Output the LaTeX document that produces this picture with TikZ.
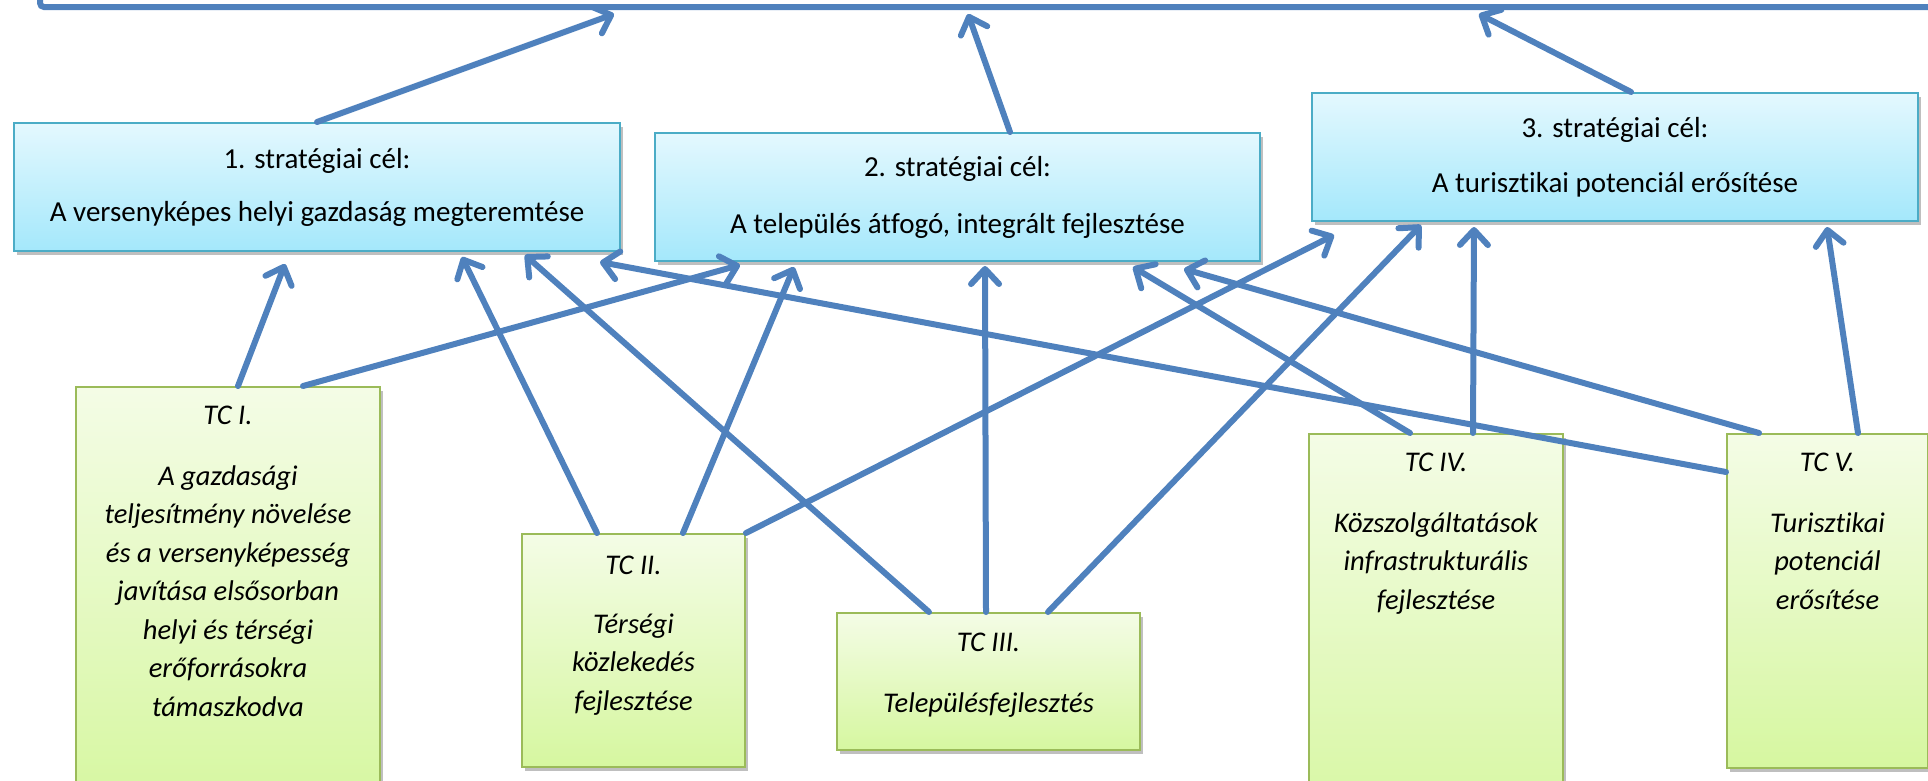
\documentclass[tikz,border=0pt]{standalone}
\usepackage{fontspec}
\setmainfont{Carlito}[Ligatures={NoCommon}]
\usetikzlibrary{arrows.meta,shadows}
\definecolor{arrowblue}{RGB}{79,129,189}
\definecolor{bluetop}{RGB}{228,248,254}
\definecolor{bluebot}{RGB}{164,232,251}
\definecolor{blueline}{RGB}{75,172,198}
\definecolor{greentop}{RGB}{244,252,230}
\definecolor{greenbot}{RGB}{214,247,160}
\definecolor{greenline}{RGB}{155,187,89}
\tikzset{
  goalbox/.style={draw=blueline, line width=2pt, top color=bluetop, bottom color=bluebot,
    anchor=north west, inner sep=0pt, align=center,
    font=\fontsize{29}{35}\selectfont,
    drop shadow={shadow xshift=3pt, shadow yshift=-4pt, opacity=0.25, fill=black}},
  tcbox/.style={draw=greenline, line width=2pt, top color=greentop, bottom color=greenbot,
    anchor=north west, inner sep=0pt,
    drop shadow={shadow xshift=3pt, shadow yshift=-4pt, opacity=0.25, fill=black}},
  tctext/.style={anchor=north, inner sep=0pt, align=center,
    font=\fontsize{28.5}{38.5}\selectfont\itshape},
  link/.style={draw=arrowblue, line width=6pt, line cap=round,
    -{Straight Barb[length=15pt,width=28pt,round]}},
}
\begin{document}
\begin{tikzpicture}[x=1pt,y=-1pt]
\useasboundingbox (0,0) rectangle (1928,780);
\clip (0,0) rectangle (1928,780);
% top (cut off) box
\node[draw=arrowblue, line width=6pt, rounded corners=4pt, anchor=south west,
  minimum width=1990pt, minimum height=120pt, inner sep=0pt] (cel) at (37,10) {};
% strategic goals
\node[goalbox, minimum width=606pt, minimum height=128pt] (b1) at (13,122)
  {1. stratégiai cél:\\[18pt]A versenyképes helyi gazdaság megteremtése};
\node[goalbox, minimum width=605pt, minimum height=128pt] (b2) at (654,132)
  {2. stratégiai cél:\\[22pt]A település átfogó, integrált fejlesztése};
\node[goalbox, minimum width=606pt, minimum height=128pt] (b3) at (1311,92)
  {3. stratégiai cél:\\[20pt]A turisztikai potenciál erősítése};
% thematic goals
\node[tcbox, minimum width=304pt, minimum height=420pt] (g1) at (75,386) {};
\node[tcbox, minimum width=223pt, minimum height=233pt] (g2) at (521,533) {};
\node[tcbox, minimum width=303pt, minimum height=137pt] (g3) at (836,612) {};
\node[tcbox, minimum width=254pt, minimum height=400pt] (g4) at (1308,433) {};
\node[tcbox, minimum width=201pt, minimum height=334pt] (g5) at (1726,433) {};
\node[tctext] (g1t) at ([yshift=-20pt]g1.north)
  {TC I.\\[22pt]A gazdasági\\teljesítmény növelése\\és a versenyképesség\\javítása elsősorban\\helyi és térségi\\erőforrásokra\\támaszkodva};
\node[tctext] (g2t) at ([yshift=-23pt]g2.north)
  {TC II.\\[20pt]Térségi\\közlekedés\\fejlesztése};
\node[tctext] (g3t) at ([yshift=-21pt]g3.north)
  {TC III.\\[22pt]Településfejlesztés};
\node[tctext] (g4t) at ([yshift=-20pt]g4.north)
  {TC IV.\\[22pt]Közszolgáltatások\\infrastrukturális\\fejlesztése};
\node[tctext] (g5t) at ([yshift=-20pt]g5.north)
  {TC V.\\[22pt]Turisztikai\\potenciál\\erősítése};
% goals -> top
\draw[link] ([xshift=304pt]b1.north west) -- ([xshift=577pt,yshift=-4pt]cel.south west);
\draw[link] ([xshift=356pt]b2.north west) -- ([xshift=931pt,yshift=-4pt]cel.south west);
\draw[link] ([xshift=320pt]b3.north west) -- ([xshift=1442pt,yshift=-4pt]cel.south west);
% TC I
\draw[link] ([xshift=163pt]g1.north west) -- ([xshift=272pt,yshift=-12pt]b1.south west);
\draw[link] ([xshift=228pt]g1.north west) -- ([xshift=86pt,yshift=-3pt]b2.south west);
% TC II
\draw[link] ([xshift=76pt]g2.north west) -- ([xshift=449pt,yshift=-5pt]b1.south west);
\draw[link] ([xshift=162pt]g2.north west) -- ([xshift=140pt,yshift=-5pt]b2.south west);
\draw[link] (g2.north east) -- ([xshift=23pt,yshift=-13pt]b3.south west);
% TC III
\draw[link] ([xshift=93pt]g3.north west) -- ([xshift=512pt,yshift=-3pt]b1.south west);
\draw[link] ([xshift=150pt]g3.north west) -- ([xshift=331pt,yshift=-4pt]b2.south west);
\draw[link] ([xshift=212pt]g3.north west) -- ([xshift=110pt,yshift=-3pt]b3.south west);
% TC IV
\draw[link] ([xshift=102pt]g4.north west) -- ([xshift=479pt,yshift=-5pt]b2.south west);
\draw[link] ([xshift=165pt]g4.north west) -- ([xshift=163pt,yshift=-5pt]b3.south west);
% TC V
\draw[link] ([yshift=-39pt]g5.north west) -- ([xshift=587pt,yshift=-10pt]b1.south west);
\draw[link] ([xshift=33pt]g5.north west) -- ([xshift=530pt,yshift=-7pt]b2.south west);
\draw[link] ([xshift=132pt]g5.north west) -- ([xshift=516pt,yshift=-5pt]b3.south west);
\end{tikzpicture}
\end{document}
